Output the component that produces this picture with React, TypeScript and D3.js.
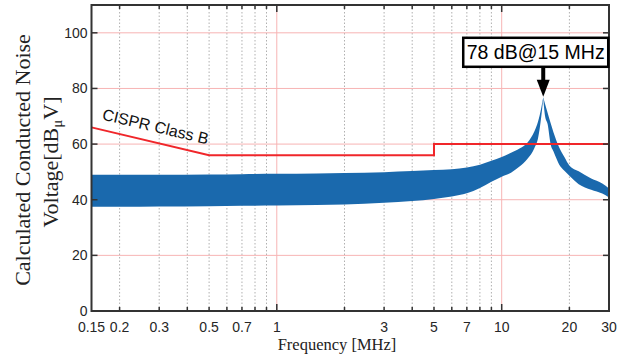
import React, { useRef, useEffect } from 'react';
import * as d3 from 'd3';

// Calculated noise envelope (band between lower and upper bound)
const freqMHz = [0.15, 0.2, 0.3, 0.5, 0.7, 1, 1.5, 2, 3, 4, 5, 6, 7, 8, 9, 10, 11, 12, 13, 14, 14.5, 15, 15.3, 15.6, 16, 16.5, 17, 18, 19, 20, 22, 25, 28, 30];
const noiseUpper = [49.0, 49.0, 49.0, 49.1, 49.2, 49.3, 49.4, 49.6, 49.9, 50.3, 50.7, 51.0, 51.6, 52.6, 54.0, 55.4, 56.9, 58.4, 60.5, 64.7, 68.0, 73.1, 76.8, 74.3, 71.3, 67.6, 64.2, 58.9, 55.4, 52.3, 50.2, 47.6, 45.8, 44.0];
const noiseLower = [37.5, 37.5, 37.6, 37.7, 37.8, 37.9, 38.1, 38.3, 38.9, 39.5, 40.3, 41.2, 42.3, 44.2, 46.5, 48.3, 49.7, 51.9, 54.6, 58.7, 62.0, 70.0, 76.5, 69.9, 67.2, 59.9, 57.3, 52.7, 50.4, 48.6, 45.6, 43.6, 42.2, 40.8];

// CISPR 22 Class B limit
const cisprFreq = [0.15, 0.5, 5, 5, 30];
const cisprLimit = [66, 56, 56, 60, 60];

const xTickLabels = [0.15, 0.2, 0.3, 0.5, 0.7, 1, 3, 5, 7, 10, 20, 30];
const minorGrid = [0.2, 0.3, 0.4, 0.5, 0.6, 0.7, 0.8, 0.9, 2, 3, 4, 5, 6, 7, 8, 9, 20];
const majorGrid = [1, 10];
const yTicks = [0, 20, 40, 60, 80, 100];

const peakFreq = 15.3;
const peakLevel = 77;
const peakLabel = '78 dB@15 MHz';

type Pt = { f: number; hi: number; lo: number };

const App = () => {
  const svgRef = useRef<SVGSVGElement>(null);

  useEffect(() => {
    const svg = d3.select(svgRef.current);
    svg.selectAll('*').remove();

    const x = d3.scaleLog().domain([0.15, 30]).range([91.5, 609]);
    const y = d3.scaleLinear().domain([0, 110]).range([311, 5]);
    const [x0, x1] = x.range();
    const [y0, y1] = y.range();

    svg.append('rect').attr('width', 632).attr('height', 356).attr('fill', '#fff');

    // grid
    svg.append('g').selectAll('line').data(minorGrid).enter().append('line')
      .attr('x1', d => x(d)).attr('x2', d => x(d)).attr('y1', y1).attr('y2', y0)
      .attr('stroke', '#b0b0b0').attr('stroke-width', 1).attr('stroke-dasharray', '1.5,2');
    svg.append('g').selectAll('line').data(majorGrid).enter().append('line')
      .attr('x1', d => x(d)).attr('x2', d => x(d)).attr('y1', y1).attr('y2', y0)
      .attr('stroke', '#f7b4b4').attr('stroke-width', 1);
    svg.append('g').selectAll('line').data(yTicks.slice(1)).enter().append('line')
      .attr('x1', x0).attr('x2', x1).attr('y1', d => y(d)).attr('y2', d => y(d))
      .attr('stroke', '#f7b4b4').attr('stroke-width', 1);

    // noise band, drawn as two smooth halves meeting at the resonance peak
    const band: Pt[] = freqMHz.map((f, i) => ({ f, hi: noiseUpper[i], lo: noiseLower[i] }));
    const area = d3.area<Pt>()
      .x(d => x(d.f)).y0(d => y(d.lo)).y1(d => y(d.hi))
      .curve(d3.curveMonotoneX);
    [band.filter(d => d.f <= peakFreq), band.filter(d => d.f >= peakFreq)].forEach(part => {
      svg.append('path').datum(part).attr('d', area).attr('fill', '#1a69ad');
    });

    // CISPR limit
    const limit = cisprFreq.map((f, i) => [x(f), y(cisprLimit[i])] as [number, number]);
    svg.append('path').attr('d', d3.line()(limit))
      .attr('fill', 'none').attr('stroke', '#f0262a').attr('stroke-width', 2);

    const angle = Math.atan2(y(56) - y(66), x(0.5) - x(0.15)) * 180 / Math.PI;
    svg.append('text')
      .attr('transform', `translate(${x(0.15) + 10},${y(66) - 8}) rotate(${angle})`)
      .attr('font-family', 'Liberation Sans, Arial, sans-serif').attr('font-size', 16)
      .attr('fill', '#111').text('CISPR Class B');

    // ticks (inside)
    const tickPos = [0.2, 0.3, 0.4, 0.5, 0.6, 0.7, 0.8, 0.9, 1, 2, 3, 4, 5, 6, 7, 8, 9, 10, 20];
    const tg = svg.append('g').attr('stroke', '#333').attr('stroke-width', 1.5);
    tickPos.forEach(f => {
      const len = majorGrid.includes(f) ? 7 : 4;
      tg.append('line').attr('x1', x(f)).attr('x2', x(f)).attr('y1', y0).attr('y2', y0 - len);
      tg.append('line').attr('x1', x(f)).attr('x2', x(f)).attr('y1', y1).attr('y2', y1 + len);
    });
    yTicks.forEach(v => {
      tg.append('line').attr('x1', x0).attr('x2', x0 + 6).attr('y1', y(v)).attr('y2', y(v));
      tg.append('line').attr('x1', x1).attr('x2', x1 - 6).attr('y1', y(v)).attr('y2', y(v));
    });

    // frame
    svg.append('rect').attr('x', x0).attr('y', y1).attr('width', x1 - x0).attr('height', y0 - y1)
      .attr('fill', 'none').attr('stroke', '#333').attr('stroke-width', 2);

    // tick labels
    svg.append('g').selectAll('text').data(xTickLabels).enter().append('text')
      .attr('x', d => x(d)).attr('y', 332).attr('text-anchor', 'middle')
      .attr('font-family', 'Liberation Sans, Arial, sans-serif').attr('font-size', 14)
      .attr('fill', '#262626').text(d => String(d));
    svg.append('g').selectAll('text').data(yTicks).enter().append('text')
      .attr('x', x0 - 4).attr('y', d => y(d)).attr('dy', '0.35em').attr('text-anchor', 'end')
      .attr('font-family', 'Liberation Sans, Arial, sans-serif').attr('font-size', 14)
      .attr('fill', '#262626').text(d => String(d));

    // axis labels
    svg.append('text').attr('x', 337).attr('y', 350).attr('text-anchor', 'middle')
      .attr('font-family', 'Liberation Serif, Times New Roman, serif').attr('font-size', 16.5)
      .attr('fill', '#222').text('Frequency [MHz]');
    const yl = svg.append('text').attr('transform', 'rotate(-90)')
      .attr('text-anchor', 'middle')
      .attr('font-family', 'Liberation Serif, Times New Roman, serif').attr('font-size', 22)
      .attr('fill', '#222');
    yl.append('tspan').attr('x', -160).attr('y', 30).text('Calculated Conducted Noise');
    const l2 = yl.append('tspan').attr('x', -162).attr('y', 58);
    l2.append('tspan').text('Voltage[dB');
    l2.append('tspan').attr('font-size', 15).attr('dy', 4).text('μ');
    l2.append('tspan').attr('dy', -4).text('V]');

    // peak annotation
    const ax = x(peakFreq);
    const tip = y(peakLevel);
    const boxBottom = tip - 30;
    const boxTop = boxBottom - 29;
    const boxLeft = ax - 80;
    svg.append('rect').attr('x', boxLeft).attr('y', boxTop).attr('width', 145).attr('height', 29)
      .attr('fill', '#fff').attr('stroke', '#000').attr('stroke-width', 2.5);
    svg.append('text').attr('x', boxLeft + 72.5).attr('y', boxTop + 21.5).attr('text-anchor', 'middle')
      .attr('font-family', 'Liberation Sans, Arial, sans-serif').attr('font-size', 19.5)
      .attr('fill', '#000').text(peakLabel);
    svg.append('line').attr('x1', ax).attr('x2', ax).attr('y1', boxBottom).attr('y2', tip - 14)
      .attr('stroke', '#000').attr('stroke-width', 4);
    svg.append('path')
      .attr('d', `M${ax - 6.5},${tip - 17}L${ax + 6.5},${tip - 17}L${ax},${tip}Z`)
      .attr('fill', '#000');
  }, []);

  return (
    <svg ref={svgRef} width={632} height={356} style={{ position: 'absolute', left: 0, top: 0 }}></svg>
  );
};

export default App;
